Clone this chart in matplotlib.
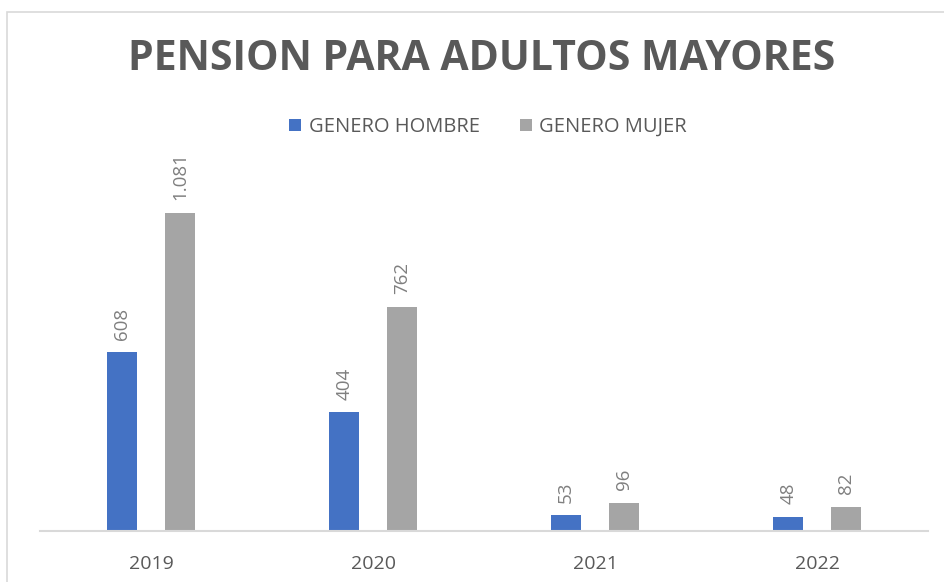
import matplotlib
matplotlib.use("Agg")
import matplotlib.pyplot as plt
from matplotlib.patches import Rectangle
import numpy as np

# datos
years = ["2019", "2020", "2021", "2022"]
hombres = [608, 404, 53, 48]
mujeres = [1081, 762, 96, 82]
label_hombres = ["608", "404", "53", "48"]
label_mujeres = ["1.081", "762", "96", "82"]

azul = "#4472C4"
gris = "#A5A5A5"
texto = "#595959"

plt.rcParams['font.family'] = ['Open Sans', 'DejaVu Sans']

W, H = 944, 582
fig = plt.figure(figsize=(W / 100, H / 100), dpi=100)

# marco del grafico (recortado a la derecha y abajo)
fig.patches.append(Rectangle((7 / W, -0.1), 1.2, 1 - 12 / H + 0.1,
                             transform=fig.transFigure, fill=False,
                             edgecolor="#D9D9D9", linewidth=1.2))

# ejes: x de 40 a 928 px, base en y=531, escala 0.2942 px por unidad
ax_bottom = 531
ax_top = 180
ax = fig.add_axes([40 / W, (H - ax_bottom) / H, 888 / W, (ax_bottom - ax_top) / H])
ymax = (ax_bottom - ax_top) / (318 / 1081)

x = np.arange(len(years))
ancho = 0.135
desp = 0.13
b1 = ax.bar(x - desp, hombres, ancho, color=azul, label="GENERO HOMBRE")
b2 = ax.bar(x + desp, mujeres, ancho, color=gris, label="GENERO MUJER")

for rect, lab in zip(b1, label_hombres):
    ax.annotate(lab, (rect.get_x() + rect.get_width() / 2, rect.get_height()),
                xytext=(0, 9), textcoords="offset points", rotation=90,
                ha="center", va="bottom", fontsize=13.5, color="#7F7F7F")
for rect, lab in zip(b2, label_mujeres):
    ax.annotate(lab, (rect.get_x() + rect.get_width() / 2, rect.get_height()),
                xytext=(0, 9), textcoords="offset points", rotation=90,
                ha="center", va="bottom", fontsize=13.5, color="#7F7F7F")

ax.set_xlim(-0.5, 3.5)
ax.set_ylim(0, ymax)
ax.set_xticks(x)
ax.set_xticklabels(years)
ax.tick_params(axis="x", length=0, pad=17, labelsize=14, labelcolor=texto)
ax.set_yticks([])
for s in ["top", "left", "right"]:
    ax.spines[s].set_visible(False)
ax.spines["bottom"].set_color("#D9D9D9")
ax.spines["bottom"].set_linewidth(1.5)

fig.text(482 / W, 1 - 60 / H, "PENSION PARA ADULTOS MAYORES", ha="center",
         va="center", fontsize=29.5, fontweight="bold", color=texto)

fig.legend(handles=[b1, b2], loc="center", bbox_to_anchor=(488 / W, 1 - 127 / H),
           ncol=2, frameon=False, fontsize=14.5, labelcolor=texto,
           handlelength=0.6, handleheight=0.6, handletextpad=0.35, columnspacing=2.0)

fig.savefig("out.png", dpi=100)
